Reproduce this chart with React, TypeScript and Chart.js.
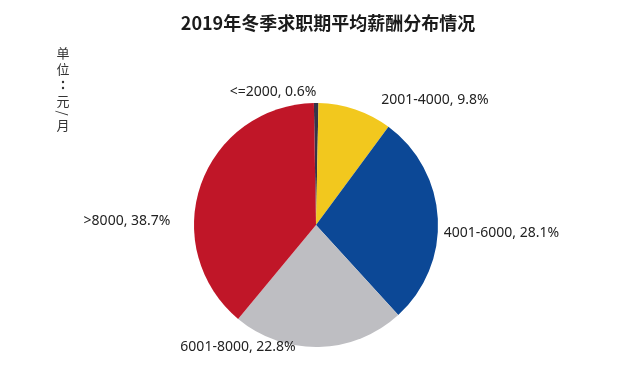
import React, { useEffect, useRef } from "react";
import { Chart, registerables } from "chart.js";
Chart.register(...registerables);

const categories = ["<=2000", "2001-4000", "4001-6000", "6001-8000", ">8000"];
const shares = [0.6, 9.8, 28.1, 22.8, 38.7];
const titleText = "2019年冬季求职期平均薪酬分布情况";
const unitText = "单位：元/月";

const sliceColors = ["#36344a", "#F2C81E", "#0C4896", "#BEBEC2", "#C01628"];
// label centre offsets relative to pie centre, in units of radius
const labelOffsets = [
  [-0.352, -1.09],
  [0.975, -1.025],
  [1.52, 0.066],
  [-0.639, 1.0],
  [-1.549, -0.033],
];

const textPlugin = {
  id: "textPlugin",
  afterDraw(chart: any) {
    const ctx = chart.ctx;
    const meta = chart.getDatasetMeta(0);
    const arc = meta.data[0];
    if (!arc) return;
    const cx = arc.x;
    const cy = arc.y;
    const r = arc.outerRadius;
    ctx.save();
    ctx.fillStyle = "#1a1a1a";
    ctx.textAlign = "center";
    ctx.textBaseline = "middle";
    ctx.font = "bold 18px 'Noto Sans CJK SC', sans-serif";
    ctx.fillText(titleText, 328, 23);

    ctx.font = "14px 'Noto Sans', 'Open Sans', sans-serif";
    ctx.fillStyle = "#222";
    categories.forEach((c, i) => {
      const [dx, dy] = labelOffsets[i];
      ctx.fillText(`${c}, ${shares[i]}%`, cx + dx * r, cy + dy * r);
    });

    ctx.font = "13px 'Noto Sans CJK SC', sans-serif";
    ctx.fillStyle = "#333";
    const chars = Array.from(unitText);
    let yy = 45;
    chars.forEach((ch) => {
      const h = ch === "/" ? 8 : 16;
      const y = yy + h / 2;
      if (ch === "/") {
        ctx.save();
        ctx.translate(63, y);
        ctx.rotate(Math.PI / 2);
        ctx.fillText(ch, 0, 0);
        ctx.restore();
      } else if (ch === "：") {
        ctx.beginPath();
        ctx.arc(63, y - 3, 1.2, 0, Math.PI * 2);
        ctx.arc(63, y + 3, 1.2, 0, Math.PI * 2);
        ctx.fill();
      } else {
        ctx.fillText(ch, 63, y);
      }
      yy += h;
    });
    ctx.restore();
  },
};

export default function App() {
  const ref = useRef<HTMLCanvasElement | null>(null);
  useEffect(() => {
    document.body.style.margin = "0";
    const chart = new Chart(ref.current as HTMLCanvasElement, {
      type: "pie",
      data: {
        labels: categories,
        datasets: [
          {
            data: shares,
            backgroundColor: sliceColors,
            borderWidth: 0,
          },
        ],
      },
      options: {
        responsive: false,
        animation: false,
        rotation: -1,
        layout: { padding: { left: 194, right: 202, top: 103, bottom: 26 } },
        plugins: {
          legend: { display: false },
          tooltip: { enabled: false },
          title: { display: false },
        },
      },
      plugins: [textPlugin],
    } as any);
    return () => chart.destroy();
  }, []);
  return (
    <div style={{ position: "fixed", left: 0, top: 0, width: 640, height: 373, background: "#fff" }}>
      <canvas ref={ref} width={640} height={373} style={{ width: 640, height: 373 }} />
    </div>
  );
}
